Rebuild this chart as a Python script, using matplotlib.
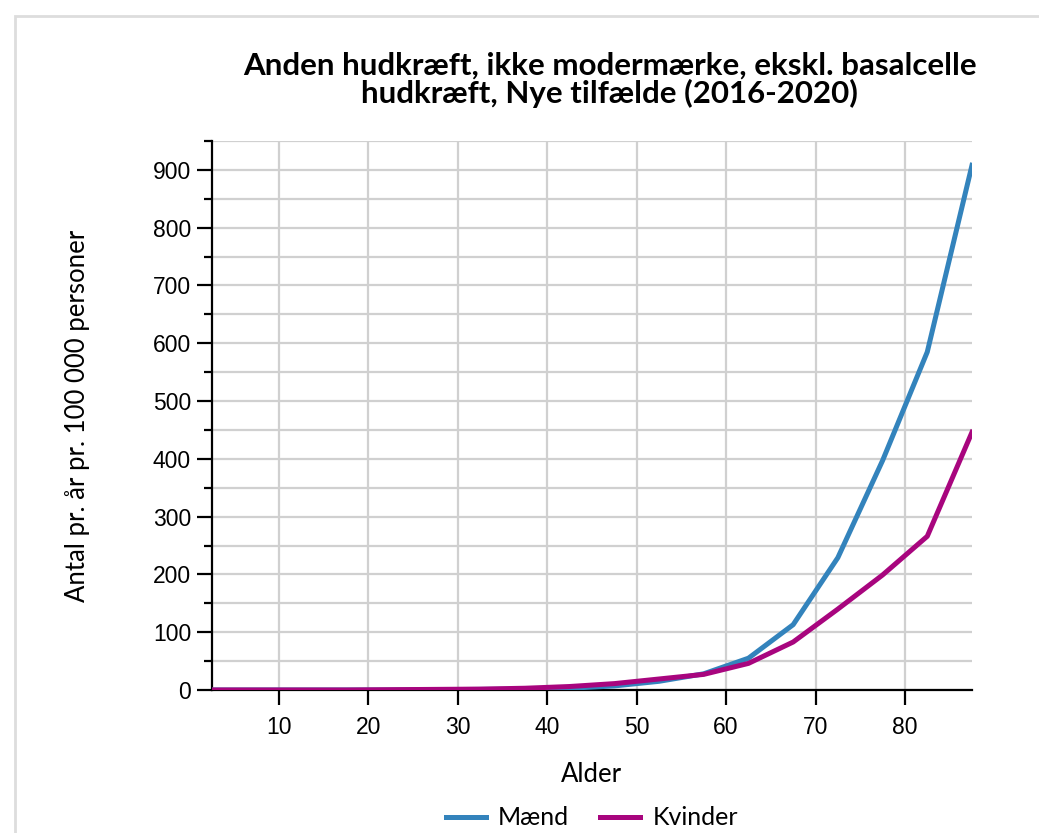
import matplotlib.pyplot as plt
from matplotlib.patches import Rectangle
from matplotlib.ticker import MultipleLocator

# age group midpoints (0-4, 5-9, ..., 85+)
alder = [2.5, 7.5, 12.5, 17.5, 22.5, 27.5, 32.5, 37.5, 42.5,
         47.5, 52.5, 57.5, 62.5, 67.5, 72.5, 77.5, 82.5, 87.5]
maend = [0, 0, 0, 0, 0, 0.5, 1, 1.5, 3,
         7, 15, 28, 55, 113, 229, 397, 585, 908]
kvinder = [0, 0, 0, 0, 0.5, 1, 1.5, 3, 6,
           11, 19, 27, 46, 83, 140, 199, 266, 446]

title = "Anden hudkræft, ikke modermærke, ekskl. basalcelle\nhudkræft, Nye tilfælde (2016-2020)"
blue = "#3383bc"
magenta = "#a8057e"

fig = plt.figure(figsize=(10.39, 8.33), dpi=100)
ax = fig.add_axes([0.204, 0.1717, 0.7315, 0.659])

# light frame around the figure
fig.patches.append(Rectangle((15 / 1039, -0.1), 1.2, 1 - 16 / 833 + 0.1,
                             transform=fig.transFigure, fill=False,
                             edgecolor="#dddddd", linewidth=2))

ax.plot(alder, maend, color=blue, lw=3.6, label="Mænd", zorder=3)
ax.plot(alder, kvinder, color=magenta, lw=3.6, label="Kvinder", zorder=3)

ax.set_xlim(2.5, 87.5)
ax.set_ylim(0, 950)
ax.yaxis.set_major_locator(MultipleLocator(100))
ax.yaxis.set_minor_locator(MultipleLocator(50))
ax.set_xticks(range(10, 90, 10))

ax.grid(True, which="major", color="#d0d0d0", lw=1.6)
ax.grid(True, which="minor", axis="y", color="#d0d0d0", lw=1.6)
ax.set_axisbelow(True)

for s in ["top", "right"]:
    ax.spines[s].set_visible(False)
ax.spines["left"].set_linewidth(1.6)
ax.spines["bottom"].set_linewidth(1.6)

ax.tick_params(axis="both", which="major", length=11, width=1.6,
               labelsize=16.5, labelfontfamily="Liberation Sans", pad=4)
ax.tick_params(axis="x", which="major", pad=8)
ax.tick_params(axis="y", which="minor", length=6, width=1.6)

ax.set_xlabel("Alder", fontsize=18.5, family="Lato", labelpad=16)
ax.set_ylabel("Antal pr. år pr. 100 000 personer", fontsize=18.5,
              family="Lato", labelpad=45)

fig.text(0.587, 0.938, title, ha="center", va="top", fontsize=22.5,
         fontweight="bold", family="Lato", linespacing=0.95)

ax.legend(loc="center", bbox_to_anchor=(0.5, -0.233), ncol=2,
          frameon=False, prop={"family": "Lato", "size": 18},
          handlelength=1.6, columnspacing=1.25, handletextpad=0.5)

fig.savefig("out.png", dpi=100)
